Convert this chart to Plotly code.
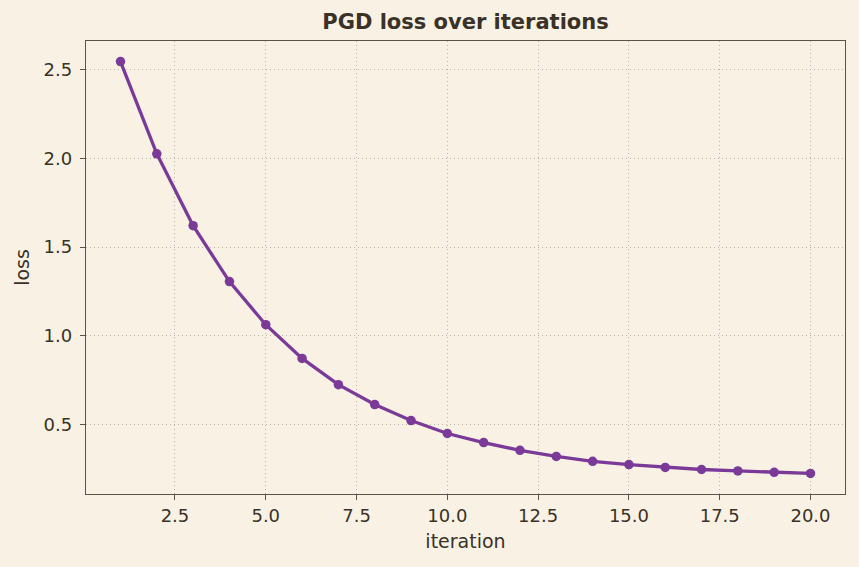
import plotly.graph_objects as go

iterations = list(range(1, 21))
loss = [2.545, 2.025, 1.620, 1.305, 1.062, 0.872, 0.724, 0.612, 0.522, 0.449,
        0.398, 0.354, 0.320, 0.292, 0.274, 0.258, 0.246, 0.238, 0.230, 0.224]

x_ticks = [2.5, 5.0, 7.5, 10.0, 12.5, 15.0, 17.5, 20.0]
x_tick_labels = ["2.5", "5.0", "7.5", "10.0", "12.5", "15.0", "17.5", "20.0"]
y_ticks = [0.5, 1.0, 1.5, 2.0, 2.5]
y_tick_labels = ["0.5", "1.0", "1.5", "2.0", "2.5"]

bg = "#f9f2e4"
spine = "#5e5342"
text = "#3a3127"
grid = "#bdb3a2"

fig = go.Figure()
fig.add_trace(go.Scatter(
    x=iterations, y=loss, mode="lines+markers",
    line=dict(color="#7b3a98", width=3.3),
    marker=dict(color="#7b3a98", size=9.5),
    showlegend=False,
))

ax_common = dict(
    showline=True, linecolor=spine, linewidth=1.4, mirror=True,
    ticks="outside", ticklen=5, tickwidth=1.4, tickcolor=spine,
    showgrid=True, gridcolor=grid, griddash="1px,3px", gridwidth=1,
    zeroline=False, tickfont=dict(size=18, color=text),
)

fig.update_layout(
    width=859, height=567,
    paper_bgcolor=bg, plot_bgcolor=bg,
    margin=dict(l=86, r=14, t=41, b=73),
    font=dict(family="DejaVu Sans", color=text),
    title=dict(text="<b>PGD loss over iterations</b>", x=0.5, xref="paper",
               xanchor="center", y=1 - 22 / 567, yanchor="middle",
               font=dict(size=21, color=text)),
    xaxis=dict(range=[0.05, 20.95], tickvals=x_ticks, ticktext=x_tick_labels,
               title=dict(text="iteration", font=dict(size=19, color=text), standoff=9),
               **ax_common),
    yaxis=dict(range=[0.108, 2.661], tickvals=y_ticks, ticktext=y_tick_labels,
               ticklabelstandoff=4,
               title=dict(text="loss", font=dict(size=19, color=text), standoff=8),
               **ax_common),
)

fig.write_html("out.html")
